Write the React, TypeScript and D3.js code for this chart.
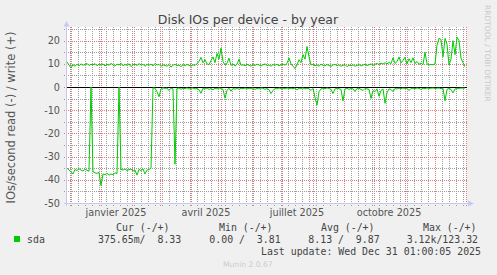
import React from 'react';
import * as d3 from 'd3';

// ---- data ----
const startDate = Date.UTC(2024, 10, 28); // first sample
const stepDays = 2;
const endDomain = Date.UTC(2026, 0, 2);

const writeValues: number[] = [
  10.8, 9.5, 8.2, 9.6, 9.0, 9.8, 9.2, 10.0, 9.4, 9.7, 10.2, 9.3, 9.8, 9.6, 10.1, 9.2, 9.9,
  9.5, 10.0, 9.1, 9.8, 9.4, 10.2, 9.6, 9.0, 9.9, 9.5, 10.3, 9.2, 9.7, 9.4, 10.0, 8.8, 9.6, 9.9, 9.3, 10.1, 9.5, 9.8, 9.0, 9.7,
  9.4, 9.9, 9.1, 10.2, 9.5, 9.8, 8.9, 9.6, 9.3, 9.0, 9.7, 8.6, 9.4, 9.8, 9.2, 9.5, 8.8, 9.6, 9.3, 9.7,
  9.4, 9.0, 9.6, 9.3, 10.2, 11.0, 12.8, 10.5, 11.8, 10.0, 9.6, 11.5, 13.0, 10.5, 14.5, 12.0, 16.8, 11.0, 9.5, 10.2, 12.5, 9.3, 10.0, 9.1, 9.8, 12.0, 9.4,
  9.6, 9.2, 9.8, 9.4, 9.0, 9.7, 9.3, 9.9, 9.5, 9.1, 9.6, 10.0, 9.3, 9.5, 9.0, 9.7, 9.4, 9.8, 9.2, 9.6, 9.9, 9.4,
  10.2, 12.5, 10.0, 9.0, 8.0, 9.5, 11.8, 10.5, 14.0, 12.0, 17.5, 13.0, 9.5, 9.8, 9.2,
  9.6, 9.0, 9.8, 9.4, 9.1, 9.7, 9.3, 8.9, 9.5, 9.8, 9.2, 9.6, 9.0, 9.4, 9.7, 8.8, 9.5, 9.2, 9.6, 9.0,
  9.3, 9.7, 9.1, 9.5, 9.8, 9.3, 9.6, 10.0, 9.4, 9.8, 10.2, 9.7, 10.3, 9.9, 10.5, 10.0, 10.6, 10.1,
  12.6, 10.2, 11.0, 13.0, 10.4, 11.5, 12.8, 10.0, 12.2, 10.5, 12.6, 10.2, 11.0, 9.8, 10.4, 9.6, 15.0, 10.0, 9.5, 9.8, 9.6, 10.0,
  18.0, 21.0, 20.5, 13.0, 21.0, 18.5, 9.5, 12.0, 20.0, 14.0, 21.5, 20.0, 12.5, 10.5, 8.8,
];

const readValues: number[] = [
  -35.0, -35.8, -36.5, -37.5, -35.5, -36.0, -35.2, -35.8, -36.2, -35.4, -35.9, -36.3,
  0.0,
  -36.5, -37.0, -37.2, -36.8, -42.5, -37.5, -37.8, -37.2, -38.0, -37.5, -37.8, -37.0, -37.3,
  0.0,
  -35.5, -35.8, -35.3, -36.0, -35.6, -35.4, -36.2, -35.8, -38.0, -35.5, -36.0, -35.3, -37.5, -35.8, -35.6, -35.0,
  -0.3, -0.5, -2.0, -4.2, -0.8, -0.3, -0.6, -0.4, -1.5, -0.5,
  -0.8, -33.3, -0.6, -0.4, -1.0, -0.5, -0.7, -0.3, -0.9, -0.5,
  -0.4, -0.8, -0.6, -1.2, -2.7, -0.5, -0.8, -0.4, -1.0, -0.6,
  -1.2, -0.5, -0.8, -0.4, -0.6, -1.0, -4.8, -1.5, -0.5, -1.8,
  -0.6, -0.9, -0.4, -1.0, -0.5, -0.7, -0.4, -0.8, -0.5, -0.6,
  -0.4, -1.0, -0.6, -0.8, -0.4, -0.5, -1.0, -0.6, -1.2, -2.8,
  -1.5, -0.6, -0.8, -0.4, -0.6, -0.5, -0.8, -0.4, -0.6, -0.5,
  -0.7, -0.4, -1.2, -0.5, -0.6, -0.4, -0.8, -0.5, -0.7, -1.5,
  -0.6, -4.5, -7.8, -2.0, -0.8, -0.5, -0.7, -0.4, -0.6, -1.0,
  -2.8, -0.8, -0.5, -0.7, -1.0, -6.0, -0.8, -0.5, -1.0, -0.6,
  -0.8, -2.0, -0.6, -0.5, -1.0, -1.5, -0.6, -0.8, -1.0, -4.9,
  -1.5, -2.0, -0.8, -4.0, -1.5, -0.8, -7.0, -2.5, -0.8, -1.0,
  -2.0, -0.6, -0.8, -0.5, -0.7, -0.4, -0.6, -0.5, -1.5, -0.6,
  -0.5, -0.7, -0.4, -0.6, -1.0, -0.5, -0.7, -0.4, -0.6, -0.5,
  -0.4, -0.6, -0.5, -0.4, -0.7, -0.5, -5.9, -1.0, -0.6, -1.0,
  -2.5, -0.8, -0.5, -0.6, -0.4, -0.5, -0.4,
];

const yMajorTicks = [20, 10, 0, -10, -20, -30, -40, -50];
const yMinorTicks = [25, 15, 5, -5, -15, -25, -35, -45];
const xLabelMonths = [Date.UTC(2025, 0, 1), Date.UTC(2025, 3, 1), Date.UTC(2025, 6, 1), Date.UTC(2025, 9, 1)];
const xLabels = ['janvier 2025', 'avril 2025', 'juillet 2025', 'octobre 2025'];

const title = 'Disk IOs per device - by year';
const yAxisTitle = 'IOs/second read (-) / write (+)';
const seriesName = 'sda';
const legendHeaders = ['Cur (-/+)', 'Min (-/+)', 'Avg (-/+)', 'Max (-/+)'];
const legendValues = ['375.65m/  8.33', '0.00 /  3.81', '8.13 /  9.87', '3.12k/123.32'];
const lastUpdate = 'Last update: Wed Dec 31 01:00:05 2025';
const footer = 'Munin 2.0.67';
const sideText = 'RRDTOOL / TOBI OETIKER';

// ---- layout ----
const W = 497, H = 275;
const L = 67, R = 467, T = 27, B = 203;
const DAY = 86400000;
const SANS = '"DejaVu Sans", sans-serif';
const MONO = '"DejaVu Sans Mono", monospace';
const headerX = [116, 219, 321, 423];
const valueX = [98, 209.3, 308.3, 406.7];
const nb = (s: string) => s.replace(/ /g, '\u00A0');

export default function App() {
  const x = d3.scaleUtc().domain([new Date(startDate), new Date(endDomain)]).range([L, R]);
  const y = d3.scaleLinear().domain([-50, 25.9]).range([B, T]);

  const dateAt = (i: number) => new Date(startDate + i * stepDays * DAY);
  const line = d3.line<number>()
    .x((_, i) => x(dateAt(i)))
    .y((d) => y(d));

  const months = d3.utcMonth.range(new Date(startDate), new Date(endDomain));
  const mondays = d3.utcMonday.range(new Date(startDate), new Date(endDomain));

  const px = (v: number) => Math.round(v) + 0.5;

  return (
    <svg width={W} height={H} style={{ position: 'absolute', left: 0, top: 0, background: '#F0F0F0' }}>
      <rect x={0} y={0} width={W} height={H} fill="#F0F0F0" />
      <rect x={L} y={T} width={R - L} height={B - T} fill="#FFFFFF" />

      {/* minor grid */}
      <g stroke="#9C9C9C" strokeWidth={1} strokeDasharray="1 1">
        {mondays.map((d, i) => (
          <line key={'mv' + i} x1={px(x(d))} x2={px(x(d))} y1={T} y2={B + 3} />
        ))}
        {yMinorTicks.filter((t) => y(t) >= T).map((t) => (
          <line key={'mh' + t} x1={L - 3} x2={R} y1={px(y(t))} y2={px(y(t))} />
        ))}
      </g>
      {/* major grid */}
      <g stroke="#E07A7A" strokeWidth={1} strokeDasharray="1 1">
        {months.map((d, i) => (
          <line key={'Mv' + i} x1={px(x(d))} x2={px(x(d))} y1={T} y2={B + 3} />
        ))}
        {yMajorTicks.map((t) => (
          <line key={'Mh' + t} x1={L - 3} x2={R} y1={px(y(t))} y2={px(y(t))} />
        ))}
      </g>

      {/* axes */}
      <g stroke="#C8C8EE" strokeWidth={1}>
        <line x1={L - 0.5} x2={L - 0.5} y1={T - 2} y2={B + 3} />
        <line x1={L - 3} x2={R + 2} y1={B + 0.5} y2={B + 0.5} />
      </g>
      <path d={`M${L - 0.5},21 L${L - 3.5},26.5 L${L + 2.5},26.5 Z`} fill="#C8C8F4" />
      <path d={`M474,${B + 0.5} L468,${B - 2.5} L468,${B + 3.5} Z`} fill="#C8C8F4" />

      {/* zero line */}
      <line x1={L} x2={R} y1={px(y(0))} y2={px(y(0))} stroke="#000" strokeWidth={1} />

      {/* series */}
      <path d={line(writeValues) || ''} fill="none" stroke="#00CC00" strokeWidth={1} />
      <path d={line(readValues) || ''} fill="none" stroke="#00CC00" strokeWidth={1} />

      {/* y tick labels */}
      <g fontFamily={SANS} fontSize={9.7} fill="#555" textAnchor="end">
        {yMajorTicks.map((t) => (
          <text key={'yl' + t} x={60} y={y(t) + 3.5}>{t}</text>
        ))}
      </g>
      {/* x labels */}
      <g fontFamily={SANS} fontSize={9.7} fill="#555" textAnchor="middle">
        {xLabelMonths.map((m, i) => (
          <text key={'xl' + i} x={x(new Date(m + 15 * DAY))} y={216}>{xLabels[i]}</text>
        ))}
      </g>

      {/* titles */}
      <text x={248} y={24} fontFamily={SANS} fontSize={12.5} fill="#444" textAnchor="middle">{title}</text>
      <text transform="translate(15,117.5) rotate(-90)" fontFamily={SANS} fontSize={11.5} fill="#555" textAnchor="middle">{yAxisTitle}</text>
      <text transform="translate(484.5,5) rotate(90)" fontFamily={SANS} fontSize={7.5} fill="#C8C8C8">{sideText}</text>

      {/* legend */}
      <g fontFamily={MONO} fontSize={9.9} fill="#444">
        {legendHeaders.map((h, i) => (
          <text key={'lh' + i} x={headerX[i]} y={231}>{nb(h)}</text>
        ))}
        <rect x={14} y={236} width={6} height={6} fill="#00CC00" />
        <text x={27} y={243}>{seriesName}</text>
        {legendValues.map((v, i) => (
          <text key={'lv' + i} x={valueX[i]} y={243}>{nb(v)}</text>
        ))}
        <text x={261} y={254.5}>{nb(lastUpdate)}</text>
      </g>
      <text x={223} y={266.5} fontFamily={SANS} fontSize={7.6} fill="#CCCCCC">{footer}</text>
    </svg>
  );
}
